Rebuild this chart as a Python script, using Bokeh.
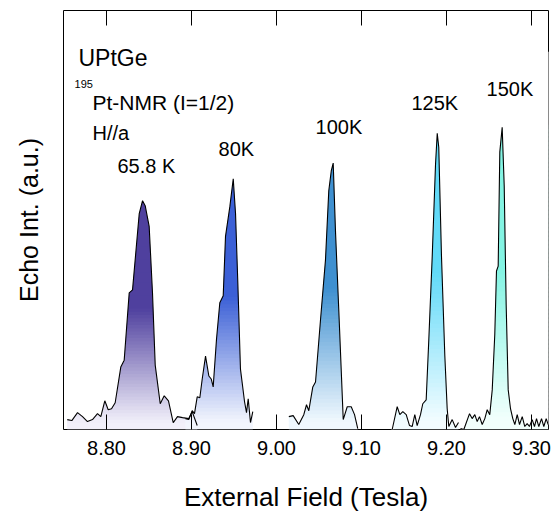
import numpy as np
from bokeh.plotting import figure
from bokeh.models import Range1d, LinearAxis, FixedTicker, NumeralTickFormatter, Label
from bokeh.embed import file_html
from bokeh.resources import INLINE

# ---------------- data ----------------
field_658 = [8.7538, 8.7592, 8.7659, 8.7718, 8.7776, 8.7835, 8.7894, 8.7933, 8.7980, 8.8020,
             8.8059, 8.8102, 8.8168, 8.8208, 8.8267, 8.8306, 8.8385, 8.8424, 8.8455, 8.8502,
             8.8541, 8.8573, 8.8632, 8.8679, 8.8729, 8.8785, 8.8835, 8.8894, 8.8968, 8.9008, 8.9067]
int_658 = [0.10, 0.09, 0.17, 0.13, 0.08, 0.10, 0.16, 0.13, 0.29, 0.20,
           0.21, 0.27, 0.63, 0.70, 1.38, 1.41, 2.18, 2.31, 2.26, 2.05,
           1.38, 0.65, 0.26, 0.34, 0.29, 0.07, 0.13, 0.12, 0.11, 0.18, 0.04]

field_80 = [8.8929, 8.8968, 8.9008, 8.9035, 8.9067, 8.9098, 8.9126, 8.9165, 8.9204, 8.9232,
            8.9255, 8.9294, 8.9333, 8.9373, 8.9400, 8.9451, 8.9491, 8.9518, 8.9545, 8.9576,
            8.9624, 8.9647, 8.9667, 8.9694, 8.9721]
int_80 = [0.11, 0.10, 0.19, 0.16, 0.33, 0.32, 0.51, 0.74, 0.54, 0.51,
          0.43, 0.91, 1.28, 1.35, 1.95, 2.25, 2.53, 2.18, 1.48, 0.61,
          0.28, 0.17, 0.31, 0.07, 0.18]

field_100 = [9.0145, 9.0196, 9.0262, 9.0321, 9.0353, 9.0380, 9.0427, 9.0459, 9.0518, 9.0576,
             9.0615, 9.0644, 9.0667, 9.0694, 9.0733, 9.0785, 9.0832, 9.0879, 9.0918, 9.0956]
int_100 = [0.13, 0.14, 0.05, 0.15, 0.25, 0.19, 0.43, 0.48, 1.11, 1.71,
           2.41, 2.61, 2.69, 2.00, 1.20, 0.10, 0.23, 0.23, 0.15, 0.01]

field_125 = [9.1361, 9.1420, 9.1451, 9.1486, 9.1526, 9.1565, 9.1596, 9.1627, 9.1655, 9.1694,
             9.1721, 9.1761, 9.1792, 9.1832, 9.1871, 9.1891, 9.1909, 9.1941, 9.1980, 9.2008,
             9.2027, 9.2067, 9.2106, 9.2141]
int_125 = [0.00, 0.23, 0.15, 0.18, 0.15, 0.04, 0.03, 0.15, 0.04, 0.15,
           0.26, 0.30, 0.91, 1.75, 2.68, 2.99, 2.85, 1.75, 0.75, 0.21,
           0.03, 0.10, 0.02, 0.07]

field_150 = [9.2165, 9.2204, 9.2271, 9.2302, 9.2333, 9.2361, 9.2388, 9.2420, 9.2451, 9.2479,
             9.2509, 9.2538, 9.2568, 9.2588, 9.2608, 9.2627, 9.2655, 9.2679, 9.2702, 9.2726,
             9.2753, 9.2780, 9.2804, 9.2832, 9.2859, 9.2891, 9.2921, 9.2949, 9.2976, 9.3008,
             9.3035, 9.3059, 9.3086, 9.3118, 9.3145, 9.3173, 9.3196]
int_150 = [0.01, 0.00, 0.16, 0.11, 0.15, 0.08, 0.13, 0.05, 0.11, 0.20,
           0.15, 0.40, 0.96, 1.60, 1.65, 2.80, 3.05, 2.46, 1.26, 0.40,
           0.21, 0.11, 0.05, 0.15, 0.05, 0.13, 0.03, 0.06, 0.03, 0.10,
           0.03, 0.11, 0.03, 0.11, 0.03, 0.11, 0.05]

temperature_labels = ["65.8 K", "80K", "100K", "125K", "150K"]
label_x = [8.8129, 8.9318, 9.0459, 9.1588, 9.2471]
label_y = [2.66, 2.83, 3.05, 3.30, 3.44]

dark_colors = ["#4f409e", "#3c60d6", "#3f90d0", "#62daf8", "#84f4e3"]
light_colors = ["#f2f0fa", "#f2f5fd", "#f0f8fe", "#f2fcff", "#f2fffc"]

x_ticks = [8.80, 8.90, 9.00, 9.10, 9.20, 9.30]
X_START, X_END = 8.7494, 9.3200
Y_START, Y_END = 0.0, 4.23

FONT = "Liberation Sans"

p = figure(width=553, height=514, output_backend="svg", toolbar_location=None,
           x_range=Range1d(X_START, X_END), y_range=Range1d(Y_START, Y_END),
           min_border_left=63, min_border_right=5, min_border_top=10, min_border_bottom=81)
p.grid.visible = False
p.outline_line_color = "black"
p.outline_line_width = 1
p.background_fill_color = "white"
p.border_fill_color = "white"


def hex_to_rgb(h):
    h = h.lstrip("#")
    return np.array([int(h[i:i + 2], 16) for i in (0, 2, 4)], dtype=float)


def add_peak(xs, ys, dark, light):
    xs = np.asarray(xs, float)
    ys = np.asarray(ys, float)
    hmax = ys.max()
    n = 70
    edges = np.linspace(0.0, hmax, n + 1)
    step = hmax / n
    mids = 0.5 * (edges[:-1] + edges[1:])
    t = np.clip((mids / hmax - 0.03) / 0.5, 0, 1)
    d, l = hex_to_rgb(dark), hex_to_rgb(light)
    cols = []
    for tt in t:
        c = l + (d - l) * tt
        cols.append("#%02x%02x%02x" % tuple(int(round(v)) for v in c))
    # bands overlap a little so no seams show between them
    p.quad(left=xs.min(), right=xs.max(), bottom=edges[:-1], top=edges[1:] + 0.6 * step,
           fill_color=cols, line_color=None)
    # white out everything above the curve inside the band box
    mask_top = hmax * 1.25
    p.varea(x=xs, y1=ys, y2=mask_top, fill_color="white")
    # hide the anti-aliased side edges of the band box above the curve ends
    p.segment(x0=[xs[0], xs[-1]], y0=[ys[0], ys[-1]], x1=[xs[0], xs[-1]], y1=[mask_top, mask_top],
              line_color="white", line_width=2.5)


peaks = [(field_658, int_658), (field_80, int_80), (field_100, int_100),
         (field_125, int_125), (field_150, int_150)]
for (fx, fy), dc, lc in zip(peaks, dark_colors, light_colors):
    add_peak(fx, fy, dc, lc)
for fx, fy in peaks:
    p.line(fx, fy, line_color="black", line_width=1.1)

# bottom axis
xa = p.xaxis[0]
xa.ticker = FixedTicker(ticks=x_ticks)
xa.formatter = NumeralTickFormatter(format="0.00")
xa.major_tick_in = 15
xa.major_tick_out = 0
xa.minor_tick_line_color = None
xa.major_tick_line_color = "black"
xa.axis_line_color = None
xa.major_label_text_font = FONT
xa.major_label_text_font_size = "20px"
xa.major_label_text_color = "black"
xa.major_label_standoff = 11
xa.axis_label = "External Field (Tesla)"
xa.axis_label_text_font = FONT
xa.axis_label_text_font_size = "26px"
xa.axis_label_text_font_style = "normal"
xa.axis_label_text_color = "black"
xa.axis_label_standoff = 24

# top axis (ticks only, no labels)
top = LinearAxis(ticker=FixedTicker(ticks=x_ticks), major_tick_in=15, major_tick_out=0,
                 minor_tick_line_color=None, axis_line_color=None,
                 major_label_overrides={t: "" for t in x_ticks},
                 major_label_text_font_size="1px", major_label_standoff=0)
p.add_layout(top, "above")

# left axis: only the title
ya = p.yaxis[0]
ya.ticker = FixedTicker(ticks=[])
ya.major_tick_line_color = None
ya.minor_tick_line_color = None
ya.major_label_standoff = 0
ya.axis_line_color = None
ya.axis_label = "Echo Int. (a.u.)"
ya.axis_label_text_font = FONT
ya.axis_label_text_font_size = "25px"
ya.axis_label_text_font_style = "normal"
ya.axis_label_text_color = "black"
ya.axis_label_standoff = 21

# annotations
p.add_layout(Label(x=8.767, y=3.75, text="UPtGe", text_font=FONT, text_font_size="23px",
                   text_baseline="alphabetic", text_color="black"))
p.add_layout(Label(x=8.7624, y=3.49, text="195", text_font=FONT, text_font_size="11px",
                   text_baseline="alphabetic", text_color="black"))
p.add_layout(Label(x=8.7835, y=3.30, text="Pt-NMR (I=1/2)", text_font=FONT, text_font_size="21px",
                   text_baseline="alphabetic", text_color="black"))
p.add_layout(Label(x=8.7835, y=2.99, text="H//a", text_font=FONT, text_font_size="20px",
                   text_baseline="alphabetic", text_color="black"))
for tx, lx, ly in zip(temperature_labels, label_x, label_y):
    p.add_layout(Label(x=lx, y=ly, text=tx, text_font=FONT, text_font_size="20px",
                       text_baseline="alphabetic", text_color="black"))

open("out.html", "w").write(file_html(p, INLINE))
